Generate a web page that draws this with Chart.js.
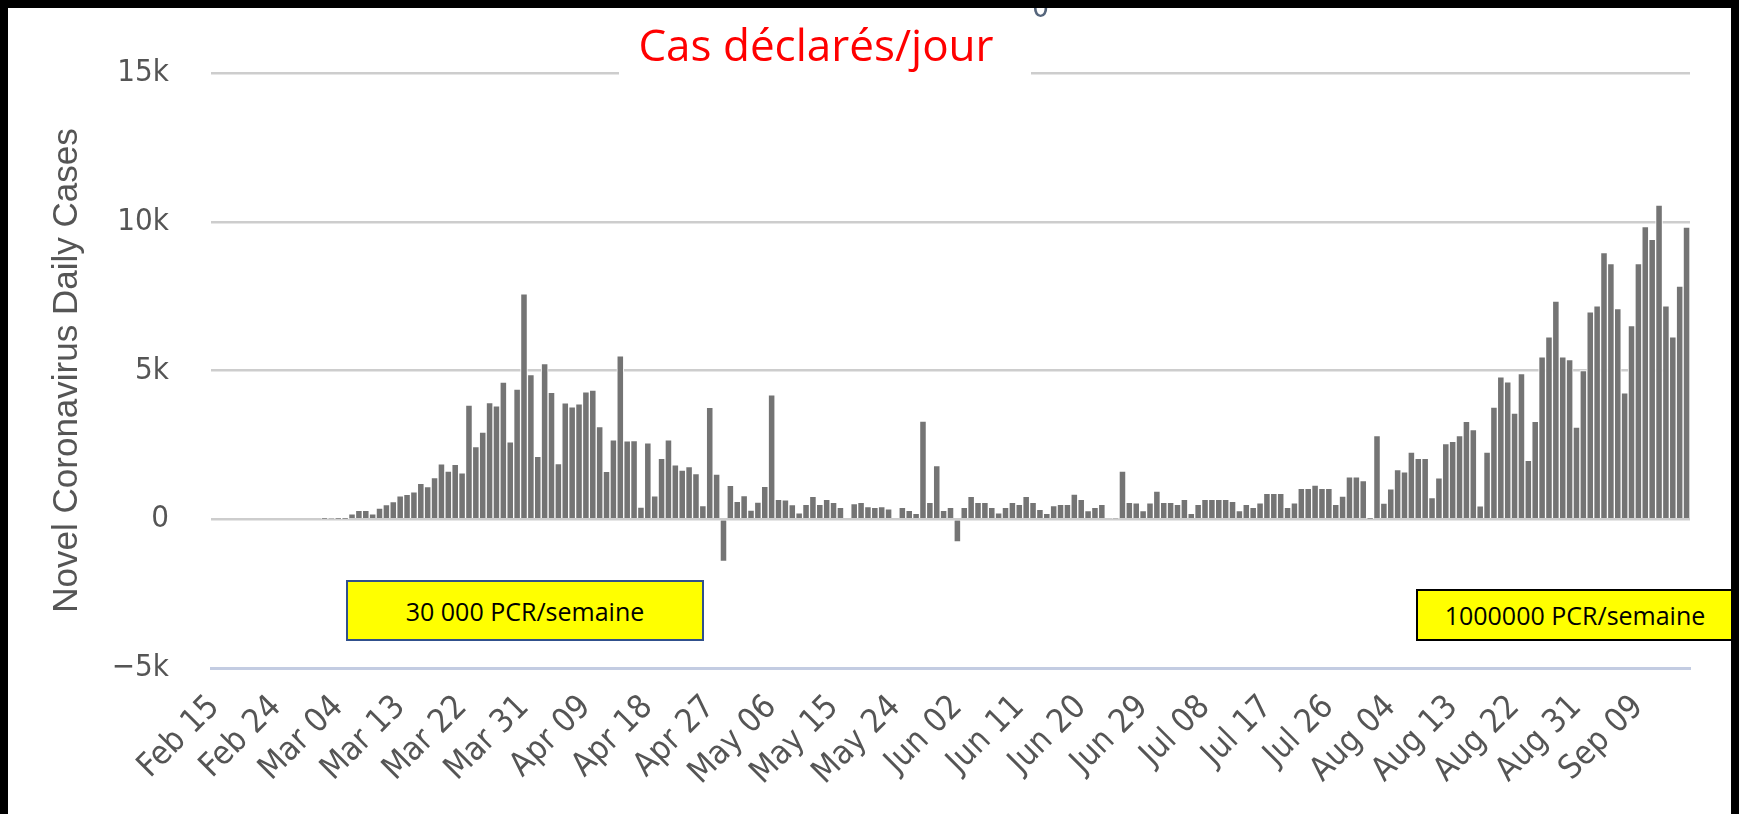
<!DOCTYPE html>
<html>
<head>
<meta charset="utf-8">
<script src="https://cdn.jsdelivr.net/npm/chart.js@4.4.1/dist/chart.umd.min.js"></script>
<style>
  html, body { margin: 0; padding: 0; background: #fff; }
  #wrap { position: relative; width: 1739px; height: 814px; overflow: hidden; background: #fff; }
  #chart { position: absolute; left: 0; top: 0; }
  .frame { position: absolute; background: #000; z-index: 10; }
  #titleBox { position: absolute; left: 619px; top: 8px; width: 412px; height: 80px; background: #fff; z-index: 3; }
  #titleText { position: absolute; left: 600px; width: 432px; top: 22px; text-align: center; z-index: 4;
    font-family: 'Open Sans', 'Noto Sans', sans-serif; font-size: 44px; line-height: 44px; color: #ff0000; white-space: nowrap; }
  #stray { position: absolute; left: 1032px; top: -8px; z-index: 4; font-family: 'DejaVu Sans Condensed','DejaVu Sans', sans-serif;
    font-size: 30px; line-height: 30px; color: #56667c; }
  .note { position: absolute; z-index: 6; box-sizing: border-box; background: #ffff00; display: flex; align-items: center; justify-content: center;
    font-family: 'Open Sans', 'Noto Sans', sans-serif; font-size: 25px; color: #000; white-space: nowrap; }
  #note1 { left: 346px; top: 580px; width: 358px; height: 61px; border: 2px solid #30508c; }
  #note2 { left: 1416px; top: 589px; width: 318px; height: 52px; border: 2px solid #000; }
</style>
</head>
<body>
<div id="wrap">
  <canvas id="chart" width="1739" height="814"></canvas>
  <div id="titleBox"></div>
  <div id="titleText">Cas déclarés/jour</div>
  <div id="stray">0</div>
  <div class="note" id="note1">30 000 PCR/semaine</div>
  <div class="note" id="note2">1000000 PCR/semaine</div>
  <div class="frame" style="left:0;top:0;width:1739px;height:8px;"></div>
  <div class="frame" style="left:0;top:0;width:8px;height:814px;"></div>
  <div class="frame" style="left:1731px;top:0;width:8px;height:814px;"></div>
</div>
<script>
// ---- data (France, Novel Coronavirus Daily Cases, Feb 15 -> Sep 16) ----
const startDate = [2020, 1, 15]; // Feb 15 2020
const dayCount = 215;
const monthNames = ['Jan','Feb','Mar','Apr','May','Jun','Jul','Aug','Sep','Oct','Nov','Dec'];

const tickLabels = ['Feb 15','Feb 24','Mar 04','Mar 13','Mar 22','Mar 31','Apr 09','Apr 18','Apr 27',
  'May 06','May 15','May 24','Jun 02','Jun 11','Jun 20','Jun 29','Jul 08','Jul 17','Jul 26',
  'Aug 04','Aug 13','Aug 22','Aug 31','Sep 09'];

const yTicks = [-5000, 0, 5000, 10000, 15000];
const yTickLabels = ['\u22125k', '0', '5k', '10k', '15k'];

// Feb 15 - Mar 1
const casesFeb = [0,0,0,0,0,0,0,0,0,0,0,0,0,0,0,0];
// Mar 2 - Mar 31
const casesMar = [10,30,10,10,180,300,300,180,372,497,595,785,838,924,1210,1097,1404,1861,1617,1847,
  1559,3838,2446,2931,3922,3809,4611,2599,4376,7578];
// Apr 1 - Apr 30
const casesApr = [4861,2116,5233,4267,1873,3912,3777,3881,4286,4342,3114,1613,2673,5497,2633,2641,405,2569,785,2051,
  2667,1827,1653,1773,1537,461,3764,1520,-1417,1139];
// May 1 - May 31
const casesMay = [604,794,308,576,1104,4183,670,650,490,220,500,770,500,670,570,400,0,530,570,430,
  400,430,350,0,400,300,200,3300,570,1800,300];
// Jun 1 - Jun 30
const casesJun = [400,-760,400,770,570,570,400,220,400,570,500,770,570,330,200,460,500,500,850,670,
  290,400,500,0,30,1620,570,550,290,550];
// Jul 1 - Jul 31
const casesJul = [950,570,570,500,670,200,500,670,670,670,670,600,290,500,400,550,870,870,870,400,
  550,1040,1040,1150,1040,1040,500,780,1430,1430,1300];
// Aug 1 - Aug 31
const casesAug = [20,2810,540,1020,1670,1590,2260,2050,2050,730,1390,2540,2620,2810,3290,3010,450,2260,3770,4790,
  4620,3570,4900,1980,3290,5460,6130,7330,5460,5370,3100];
// Sep 1 - Sep 16
const casesSep = [5000,6970,7170,8960,8590,7080,4250,6510,8590,9840,9410,10560,7170,6130,7840,9820];

const dailyCases = [].concat(casesFeb, casesMar, casesApr, casesMay, casesJun, casesJul, casesAug, casesSep);

const categories = [];
for (let i = 0; i < dayCount; i++) {
  const d = new Date(Date.UTC(startDate[0], startDate[1], startDate[2] + i));
  categories.push(monthNames[d.getUTCMonth()] + ' ' + String(d.getUTCDate()).padStart(2, '0'));
}

const tickFont = "'DejaVu Sans Condensed', 'DejaVu Sans', sans-serif";

new Chart(document.getElementById('chart').getContext('2d'), {
  type: 'bar',
  data: {
    labels: categories,
    datasets: [{
      data: dailyCases,
      backgroundColor: '#747474',
      borderColor: '#ffffff',
      borderWidth: 1,
      barPercentage: 1,
      categoryPercentage: 1
    }]
  },
  options: {
    responsive: false,
    animation: false,
    layout: { padding: { left: 42, top: 73, right: 49, bottom: 0 } },
    plugins: { legend: { display: false }, tooltip: { enabled: false }, title: { display: false } },
    scales: {
      x: {
        grid: { display: false, drawTicks: false, tickLength: 0 },
        border: { display: true, color: '#c3cce2', width: 3 },
        ticks: {
          autoSkip: false, maxRotation: 45, minRotation: 45, padding: 20,
          color: '#555555', font: { family: tickFont, size: 33 },
          callback: function (v, i) { return tickLabels.indexOf(categories[i]) >= 0 ? categories[i] : ''; }
        },
        afterFit: function (s) { s.height = 146; }
      },
      y: {
        min: -5000, max: 15000,
        ticks: {
          stepSize: 5000, padding: 42, color: '#555555', font: { family: tickFont, size: 31 },
          callback: function (v) { const k = yTicks.indexOf(v); return k >= 0 ? yTickLabels[k] : ''; }
        },
        grid: {
          drawTicks: false, tickLength: 0, lineWidth: 2.5,
          color: function (c) { return c.tick && c.tick.value === -5000 ? 'rgba(0,0,0,0)' : '#cdcdcd'; }
        },
        border: { display: false },
        title: {
          display: true, text: 'Novel Coronavirus Daily Cases', color: '#555555',
          font: { family: "'Liberation Sans', Arial, sans-serif", size: 35 }, padding: { top: 4, bottom: 4 }
        },
        afterFit: function (s) { s.width = 169; }
      }
    }
  }
});
</script>
</body>
</html>
